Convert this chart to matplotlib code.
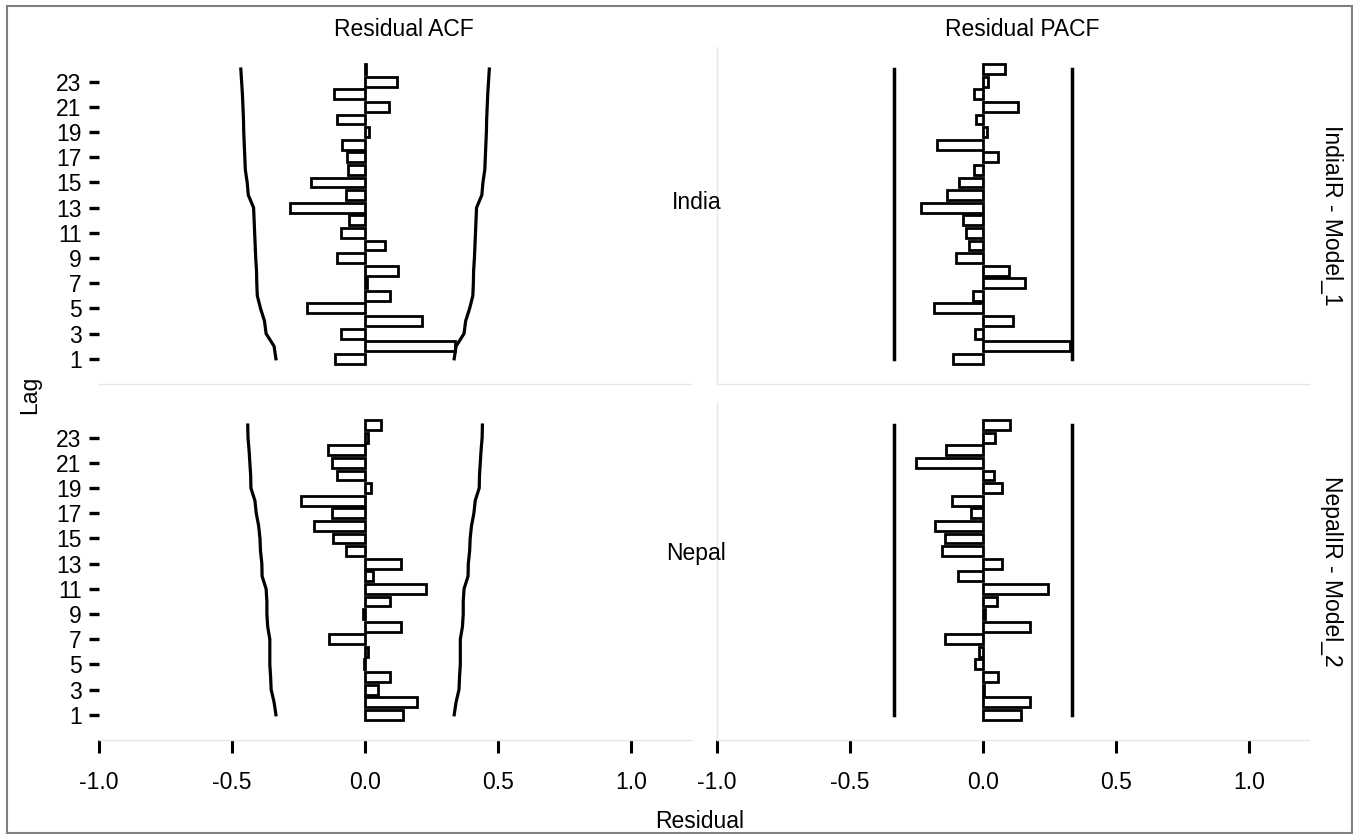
import matplotlib
matplotlib.use("Agg")
import matplotlib.pyplot as plt
from matplotlib.patches import Rectangle
import numpy as np

plt.rcParams['font.family'] = ['Liberation Sans', 'DejaVu Sans']

lags = list(range(1, 25))

india_acf = [-0.113, 0.337, -0.089, 0.215, -0.218, 0.093, 0.007, 0.123, -0.105, 0.074,
             -0.090, -0.059, -0.281, -0.070, -0.205, -0.063, -0.069, -0.086, 0.014, -0.105,
             0.090, -0.117, 0.119, 0.004]
india_acf_bound = [0.335, 0.342, 0.372, 0.378, 0.393, 0.405, 0.407, 0.408, 0.411, 0.413,
                   0.415, 0.417, 0.419, 0.439, 0.443, 0.450, 0.452, 0.454, 0.456, 0.457,
                   0.459, 0.461, 0.464, 0.467]
india_pacf = [-0.113, 0.327, -0.030, 0.112, -0.185, -0.036, 0.159, 0.099, -0.100, -0.053,
              -0.063, -0.077, -0.234, -0.136, -0.092, -0.034, 0.056, -0.174, 0.016, -0.026,
              0.133, -0.033, 0.020, 0.082]

nepal_acf = [0.142, 0.196, 0.050, 0.095, -0.005, 0.010, -0.136, 0.136, -0.009, 0.093,
             0.229, 0.030, 0.135, -0.070, -0.122, -0.193, -0.126, -0.242, 0.024, -0.105,
             -0.126, -0.139, 0.012, 0.059]
nepal_acf_bound = [0.335, 0.342, 0.353, 0.355, 0.358, 0.358, 0.358, 0.366, 0.369, 0.369,
                   0.372, 0.387, 0.388, 0.393, 0.395, 0.400, 0.409, 0.414, 0.429, 0.430,
                   0.433, 0.436, 0.440, 0.441]
nepal_pacf = [0.141, 0.178, 0.005, 0.055, -0.032, -0.016, -0.142, 0.178, 0.008, 0.053,
              0.245, -0.093, 0.073, -0.155, -0.142, -0.181, -0.044, -0.118, 0.070, 0.042,
              -0.251, -0.139, 0.043, 0.100]
pacf_bound = 0.336

col_titles = ["Residual ACF", "Residual PACF"]
row_titles = ["IndiaIR - Model_1", "NepalIR - Model_2"]
country_labels = ["India", "Nepal"]
country_label_pos = [(1.245, 13.4), (1.245, 13.8)]
x_ticks = [-1.0, -0.5, 0.0, 0.5, 1.0]
x_ticklabels = ["-1.0", "-0.5", "0.0", "0.5", "1.0"]
y_ticks = list(range(1, 24, 2))

W, H = 1353, 834
fig = plt.figure(figsize=(W / 100, H / 100), dpi=100)

def fx(px):
    return px / W

def fy(py):
    return 1 - py / H

col_left = [99, 717]
row_top = [47, 403]
pw, ph = 592, 337

FS = 16.5
grid_col = '#e6e6e6'

panels = [[(india_acf, india_acf_bound), (india_pacf, None)],
          [(nepal_acf, nepal_acf_bound), (nepal_pacf, None)]]

for r in range(2):
    for c in range(2):
        ax = fig.add_axes([fx(col_left[c]), fy(row_top[r] + ph), pw / W, ph / H])
        ax.patch.set_visible(False)
        vals, bound = panels[r][c]
        ax.barh(lags, vals, height=0.78, color='white', edgecolor='black', linewidth=2.0, zorder=3)
        if bound is not None:
            ax.plot(bound, lags, color='black', lw=2.3, zorder=4, solid_joinstyle='miter')
            ax.plot([-b for b in bound], lags, color='black', lw=2.3, zorder=4, solid_joinstyle='miter')
        else:
            ax.plot([pacf_bound, pacf_bound], [lags[0], lags[-1]], color='black', lw=2.5, zorder=4)
            ax.plot([-pacf_bound, -pacf_bound], [lags[0], lags[-1]], color='black', lw=2.5, zorder=4)
        ax.set_xlim(-1.0, 1.225)
        ax.set_ylim(-1.0, 25.75)
        for s in ['top', 'right']:
            ax.spines[s].set_visible(False)
        ax.spines['bottom'].set_color(grid_col)
        ax.spines['bottom'].set_linewidth(1.0)
        if c == 1:
            ax.spines['left'].set_color(grid_col)
            ax.spines['left'].set_linewidth(1.0)
        else:
            ax.spines['left'].set_visible(False)
        if r == 1:
            ax.set_xticks(x_ticks)
            ax.set_xticklabels(x_ticklabels, fontsize=FS)
            ax.tick_params(axis='x', length=9, width=2.2, color='black', pad=13)
        else:
            ax.set_xticks([])
        if c == 0:
            ax.set_yticks(y_ticks)
            ax.set_yticklabels([str(v) for v in y_ticks], fontsize=FS)
            ax.tick_params(axis='y', length=7.5, width=2.4, color='black', pad=5)
            # label position via the panel's data transform, drawn at figure level (on top)
            xd, yd = country_label_pos[r]
            px_, py_ = ax.transData.transform((xd, yd))
            fx_, fy_ = fig.transFigure.inverted().transform((px_, py_))
            fig.text(fx_, fy_, country_labels[r], fontsize=FS, ha='center', va='center',
                     zorder=20)
        else:
            ax.set_yticks([])
        if r == 0:
            fig.text(fx(col_left[c] + pw / 2 + 9), fy(30), col_titles[c], fontsize=FS,
                     ha='center', va='center')
        if c == 1:
            fig.text(fx(1331), fy(row_top[r] + ph / 2), row_titles[r], fontsize=FS,
                     ha='center', va='center', rotation=-90)

fig.text(fx(30), fy(395), "Lag", fontsize=FS, ha='center', va='center', rotation=90)
fig.text(fx(700), fy(821), "Residual", fontsize=FS, ha='center', va='center')

fig.add_artist(Rectangle((fx(7), fy(833)), fx(1352) - fx(7), fy(6) - fy(833),
                         transform=fig.transFigure, fill=False, edgecolor='#7f7f7f', lw=1.5))

fig.savefig("out.png", dpi=100)
